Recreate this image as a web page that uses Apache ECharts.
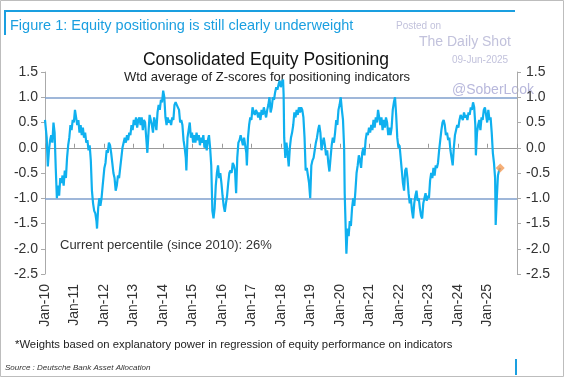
<!DOCTYPE html>
<html>
<head>
<meta charset="utf-8">
<script src="https://cdn.jsdelivr.net/npm/echarts@6/dist/echarts.min.js"></script>
<style>
  html, body { margin: 0; padding: 0; background: #fff; }
  #chart { width: 564px; height: 377px; }
</style>
</head>
<body>
<div id="chart"></div>
<script>
// 数据 (roughly every two weeks)
var dates = [
  '2010-01-01','2010-01-22','2010-02-05','2010-02-19','2010-03-05','2010-03-19','2010-04-02','2010-04-16','2010-04-30','2010-05-14','2010-05-28','2010-06-11','2010-06-25','2010-07-09','2010-07-23','2010-08-06','2010-08-20','2010-09-03','2010-09-17','2010-10-01','2010-10-15','2010-10-29','2010-11-12','2010-11-26','2010-12-10','2010-12-24',
  '2011-01-07','2011-01-21','2011-02-04','2011-02-18','2011-03-04','2011-03-18','2011-04-01','2011-04-15','2011-04-29','2011-05-13','2011-05-27','2011-06-10','2011-06-24','2011-07-08','2011-07-22','2011-08-05','2011-08-19','2011-09-02','2011-09-16','2011-09-30','2011-10-07','2011-10-21','2011-11-04','2011-11-18','2011-12-02','2011-12-16',
  '2012-01-06','2012-01-20','2012-02-03','2012-02-17','2012-03-02','2012-03-16','2012-03-30','2012-04-13','2012-04-27','2012-05-11','2012-05-25','2012-06-08','2012-06-22','2012-07-06','2012-07-20','2012-08-03','2012-08-17','2012-08-31','2012-09-14','2012-09-28','2012-10-12','2012-10-26','2012-11-09','2012-11-23','2012-12-07','2012-12-21',
  '2013-01-04','2013-01-18','2013-02-01','2013-02-15','2013-03-01','2013-03-15','2013-03-29','2013-04-12','2013-04-26','2013-05-10','2013-05-24','2013-06-07','2013-06-21','2013-07-05','2013-07-19','2013-08-02','2013-08-16','2013-08-30','2013-09-13','2013-09-27','2013-10-11','2013-10-25','2013-11-08','2013-11-22','2013-12-06','2013-12-20',
  '2014-01-03','2014-01-17','2014-01-31','2014-02-14','2014-02-28','2014-03-14','2014-03-28','2014-04-11','2014-04-25','2014-05-09','2014-05-23','2014-06-06','2014-06-20','2014-07-04','2014-07-18','2014-08-01','2014-08-15','2014-08-29','2014-09-12','2014-09-26','2014-10-10','2014-10-17','2014-10-31','2014-11-14','2014-11-28','2014-12-12','2014-12-26',
  '2015-01-09','2015-01-23','2015-02-06','2015-02-20','2015-03-06','2015-03-20','2015-04-03','2015-04-17','2015-05-01','2015-05-15','2015-05-29','2015-06-12','2015-06-26','2015-07-10','2015-07-24','2015-08-07','2015-08-21','2015-09-04','2015-09-18','2015-10-02','2015-10-16','2015-10-30','2015-11-13','2015-11-27','2015-12-11','2015-12-25',
  '2016-01-08','2016-01-22','2016-02-05','2016-02-19','2016-03-04','2016-03-18','2016-04-01','2016-04-15','2016-04-29','2016-05-13','2016-05-27','2016-06-10','2016-06-24','2016-07-08','2016-07-22','2016-08-05','2016-08-19','2016-09-02','2016-09-16','2016-09-30','2016-10-14','2016-10-28','2016-11-04','2016-11-18','2016-12-02','2016-12-16','2016-12-30',
  '2017-01-13','2017-01-27','2017-02-10','2017-02-24','2017-03-10','2017-03-24','2017-04-07','2017-04-21','2017-05-05','2017-05-19','2017-06-02','2017-06-16','2017-06-30','2017-07-14','2017-07-28','2017-08-11','2017-08-25','2017-09-08','2017-09-22','2017-10-06','2017-10-20','2017-11-03','2017-11-17','2017-12-01','2017-12-15','2017-12-29',
  '2018-01-12','2018-01-26','2018-02-02','2018-02-09','2018-02-23','2018-03-09','2018-03-23','2018-04-06','2018-04-20','2018-05-04','2018-05-18','2018-06-01','2018-06-15','2018-06-29','2018-07-13','2018-07-27','2018-08-10','2018-08-24','2018-09-07','2018-09-21','2018-10-05','2018-10-19','2018-11-02','2018-11-16','2018-11-30','2018-12-14','2018-12-28',
  '2019-01-11','2019-01-25','2019-02-08','2019-02-22','2019-03-08','2019-03-22','2019-04-05','2019-04-19','2019-05-03','2019-05-17','2019-05-31','2019-06-14','2019-06-28','2019-07-12','2019-07-26','2019-08-09','2019-08-23','2019-09-06','2019-09-20','2019-10-04','2019-10-18','2019-11-01','2019-11-15','2019-11-29','2019-12-13','2019-12-27',
  '2020-01-10','2020-01-24','2020-02-07','2020-02-21','2020-02-28','2020-03-06','2020-03-20','2020-04-03','2020-04-17','2020-05-01','2020-05-15','2020-05-29','2020-06-12','2020-06-26','2020-07-10','2020-07-24','2020-08-07','2020-08-21','2020-09-04','2020-09-18','2020-10-02','2020-10-16','2020-10-30','2020-11-13','2020-11-27','2020-12-11','2020-12-25',
  '2021-01-08','2021-01-22','2021-02-05','2021-02-19','2021-03-05','2021-03-19','2021-04-02','2021-04-16','2021-04-30','2021-05-14','2021-05-28','2021-06-11','2021-06-25','2021-07-09','2021-07-23','2021-08-06','2021-08-20','2021-09-03','2021-09-17','2021-10-01','2021-10-15','2021-10-29','2021-11-12','2021-11-26','2021-12-10','2021-12-24',
  '2022-01-07','2022-01-21','2022-02-04','2022-02-18','2022-03-04','2022-03-18','2022-04-01','2022-04-15','2022-04-29','2022-05-13','2022-05-27','2022-06-10','2022-06-24','2022-07-08','2022-07-22','2022-08-05','2022-08-19','2022-09-02','2022-09-16','2022-09-30','2022-10-14','2022-10-28','2022-11-11','2022-11-25','2022-12-09','2022-12-23',
  '2023-01-06','2023-01-20','2023-02-03','2023-02-17','2023-03-03','2023-03-17','2023-03-31','2023-04-14','2023-04-28','2023-05-12','2023-05-26','2023-06-09','2023-06-23','2023-07-07','2023-07-21','2023-08-04','2023-08-18','2023-09-01','2023-09-15','2023-09-29','2023-10-13','2023-10-27','2023-11-10','2023-11-24','2023-12-08','2023-12-22',
  '2024-01-05','2024-01-19','2024-02-02','2024-02-16','2024-03-01','2024-03-15','2024-03-29','2024-04-12','2024-04-26','2024-05-10','2024-05-24','2024-06-07','2024-06-21','2024-07-05','2024-07-19','2024-08-02','2024-08-09','2024-08-23','2024-09-06','2024-09-20','2024-10-04','2024-10-18','2024-11-01','2024-11-15','2024-11-29','2024-12-13','2024-12-27',
  '2025-01-10','2025-01-24','2025-02-07','2025-02-21','2025-03-07','2025-03-21','2025-04-04','2025-04-11','2025-04-25','2025-05-09','2025-05-23','2025-06-06'
];
var values = [
  0.55,0.2,-0.37,-0.05,0.15,0.25,0.1,0.5,0.3,-0.4,-1.0,-0.75,-0.95,-0.6,-0.7,-0.55,-0.75,-0.45,-0.6,-0.2,0.05,0.2,0.45,0.35,0.55,0.5,
  0.75,0.6,0.45,0.55,0.3,0.45,0.25,0.4,0.2,0.3,0.1,0.15,-0.05,0.05,-0.25,-0.85,-1.1,-1.25,-1.3,-1.45,-1.6,-1.2,-1.0,-1.15,-1.0,-0.75,
  -0.4,-0.3,-0.05,-0.1,0.1,0.05,-0.1,-0.3,-0.5,-0.6,-0.85,-0.75,-0.55,-0.6,-0.4,-0.2,0.0,0.1,0.2,0.1,0.25,0.15,0.3,0.25,0.45,0.35,
  0.55,0.45,0.6,0.4,0.55,0.6,0.45,0.6,0.35,0.55,0.5,0.2,-0.1,0.3,0.65,0.55,0.45,0.3,0.6,0.5,0.35,0.7,0.85,0.75,0.95,0.9,
  1.13,1.0,0.6,0.45,0.6,0.5,0.55,0.45,0.6,0.55,0.85,0.9,0.85,0.8,0.75,0.5,0.55,0.45,0.15,0.0,-0.2,-0.45,0.2,0.35,0.5,0.2,0.3,
  0.1,0.25,0.1,0.3,0.15,0.25,0.05,0.2,0.1,0.25,0.0,0.15,-0.05,0.15,0.25,0.0,-0.35,-1.25,-1.4,-1.2,-0.75,-0.5,-0.35,-0.6,-0.5,-0.7,
  -0.95,-1.15,-1.27,-1.1,-0.95,-0.7,-0.5,-0.45,-0.5,-0.3,-0.35,-0.45,-0.9,-0.2,0.1,0.15,0.25,0.15,0.05,0.2,0.05,-0.1,-0.35,0.2,0.45,0.6,0.55,
  0.8,0.7,0.65,0.75,0.7,0.6,0.7,0.55,0.75,0.65,0.8,0.7,0.6,0.75,0.85,1.0,0.7,0.8,1.0,0.95,1.1,1.2,1.15,1.25,1.33,1.2,
  1.3,1.35,1.05,0.2,-0.2,0.1,-0.1,-0.37,0.0,0.2,0.3,0.45,0.7,0.6,0.75,0.65,0.8,0.7,0.8,0.75,0.6,0.2,-0.45,-0.4,-0.55,-0.7,-1.0,
  -0.35,-0.25,-0.2,-0.05,0.1,0.2,0.35,0.45,0.3,-0.05,0.1,0.2,0.05,-0.15,-0.05,-0.3,-0.47,-0.2,0.05,0.2,0.1,0.3,0.55,0.45,0.75,0.85,
  1.0,0.75,0.55,0.0,-0.9,-1.3,-2.1,-1.6,-1.75,-1.45,-1.55,-1.2,-1.0,-1.15,-0.85,-0.5,-0.35,-0.15,-0.25,-0.4,-0.1,0.0,-0.15,0.15,0.3,0.25,0.4,
  0.3,0.45,0.35,0.55,0.4,0.6,0.5,0.75,0.6,0.45,0.6,0.35,0.55,0.4,0.6,0.5,0.25,0.4,0.25,0.4,0.75,0.9,1.0,0.65,0.2,0.0,
  0.05,-0.2,-0.45,-0.7,-0.85,-0.45,-0.4,-0.6,-0.9,-1.1,-1.0,-1.25,-1.4,-1.1,-0.95,-0.85,-1.05,-1.0,-1.2,-1.35,-1.4,-1.1,-1.0,-0.9,-1.05,-0.95,
  -1.0,-0.65,-0.5,-0.6,-0.4,-0.55,-0.35,-0.4,-0.3,-0.05,0.15,0.35,0.5,0.55,0.45,0.25,0.3,0.15,0.2,-0.05,-0.2,-0.35,0.0,0.25,0.35,0.45,
  0.4,0.55,0.65,0.6,0.55,0.7,0.6,0.65,0.55,0.7,0.65,0.8,0.75,0.9,0.8,0.45,-0.15,0.3,0.45,0.55,0.35,0.6,0.55,0.75,0.8,0.65,0.5,
  0.75,0.55,0.6,0.3,-0.1,-0.3,-0.6,-1.53,-1.0,-0.55,-0.45,-0.4
];
var latestDate = '2025-06-06';
var latestValue = -0.4;
var yTicks = { min: -2.5, max: 1.5, step: 0.5 };
var bandLines = [1.0, -1.0];

var chart = echarts.init(document.getElementById('chart'));
var lineData = dates.map(function (d, i) { return [d, values[i]]; });
var font = 'Liberation Sans, Arial, sans-serif';
var xMin = '2010-01-01';
var xMax = '2025-12-31';
var yearMs = 365 * 24 * 3600 * 1000;

var option = {
  animation: false,
  grid: { left: 45, right: 47, top: 72, bottom: 103 },
  xAxis: [
    {
      type: 'time',
      min: xMin,
      max: xMax,
      minInterval: yearMs,
      maxInterval: yearMs * 1.01,
      axisLine: { show: false, onZero: false },
      axisTick: { show: false },
      splitLine: { show: false },
      axisLabel: {
        rotate: 90,
        margin: 10,
        color: '#333',
        fontSize: 14,
        fontFamily: font,
        showMaxLabel: false,
        formatter: function (val) {
          var y = new Date(val).getFullYear();
          return 'Jan-' + String(y).slice(2);
        }
      }
    },
    {
      type: 'time',
      min: xMin,
      max: xMax,
      minInterval: yearMs,
      maxInterval: yearMs * 1.01,
      axisLine: { show: true, onZero: true, lineStyle: { color: '#999', width: 1 } },
      axisTick: { show: true, inside: false, length: 4, lineStyle: { color: '#999' } },
      axisLabel: { show: false },
      splitLine: { show: false }
    }
  ],
  yAxis: [
    {
      type: 'value',
      position: 'left',
      min: yTicks.min,
      max: yTicks.max,
      interval: yTicks.step,
      axisLine: { show: true, lineStyle: { color: '#aaa' } },
      axisTick: { show: true, length: 4, lineStyle: { color: '#aaa' } },
      splitLine: { show: false },
      axisLabel: {
        color: '#333', fontSize: 14, fontFamily: font, margin: 7,
        formatter: function (v) { return v.toFixed(1); }
      }
    },
    {
      type: 'value',
      position: 'right',
      min: yTicks.min,
      max: yTicks.max,
      interval: yTicks.step,
      axisLine: { show: true, lineStyle: { color: '#aaa' } },
      axisTick: { show: true, length: 4, lineStyle: { color: '#aaa' } },
      splitLine: { show: false },
      axisLabel: {
        color: '#333', fontSize: 14, fontFamily: font, margin: 9,
        formatter: function (v) { return v.toFixed(1); }
      }
    }
  ],
  series: [
    {
      type: 'line',
      xAxisIndex: 0,
      yAxisIndex: 0,
      data: lineData,
      showSymbol: false,
      symbol: 'none',
      lineStyle: { color: '#0fb0ef', width: 2.2 },
      z: 5,
      markLine: {
        silent: true,
        symbol: 'none',
        label: { show: false },
        lineStyle: { color: '#7f9fcc', width: 1.5, type: 'solid' },
        data: bandLines.map(function (v) { return { yAxis: v }; })
      }
    },
    {
      type: 'scatter',
      xAxisIndex: 0,
      yAxisIndex: 0,
      data: [[latestDate, latestValue]],
      symbol: 'diamond',
      symbolSize: 9,
      itemStyle: { color: '#f49a55' },
      z: 6
    }
  ],
  graphic: [
    { type: 'rect', shape: { x: 0.5, y: 0.5, width: 563, height: 376 }, style: { fill: null, stroke: '#bdbdbd', lineWidth: 1 } },
    { type: 'rect', shape: { x: 4, y: 10, width: 511, height: 2 }, style: { fill: '#1a9fe0' } },
    { type: 'rect', shape: { x: 4, y: 10, width: 2, height: 25 }, style: { fill: '#1a9fe0' } },
    { type: 'rect', shape: { x: 515, y: 359, width: 2, height: 16 }, style: { fill: '#1a9fe0' } },
    { type: 'text', left: 10, top: 18, style: { text: 'Figure 1: Equity positioning is still clearly underweight', fill: '#1a9fe0', font: '14.5px ' + font } },
    { type: 'text', left: 396, top: 21, style: { text: 'Posted on', fill: '#c2c2dc', font: '10px ' + font } },
    { type: 'text', left: 419, top: 35, style: { text: 'The Daily Shot', fill: '#c2c2dc', font: '14px ' + font } },
    { type: 'text', left: 452, top: 55, style: { text: '09-Jun-2025', fill: '#c2c2dc', font: '10px ' + font } },
    { type: 'text', left: 452, top: 83, style: { text: '@SoberLook', fill: '#b8b8dc', font: '14px ' + font } },
    { type: 'text', x: 266, y: 60, style: { text: 'Consolidated Equity Positioning', fill: '#111', font: '17.5px ' + font, textAlign: 'center', textVerticalAlign: 'middle' } },
    { type: 'text', x: 267, y: 77, style: { text: 'Wtd average of Z-scores for positioning indicators', fill: '#222', font: '13px ' + font, textAlign: 'center', textVerticalAlign: 'middle' } },
    { type: 'text', left: 60, top: 239, style: { text: 'Current percentile (since 2010): 26%', fill: '#333', font: '13px ' + font } },
    { type: 'text', left: 15, top: 339, style: { text: '*Weights based on explanatory power in regression of equity performance on indicators', fill: '#222', font: '11.3px ' + font } },
    { type: 'text', left: 5, top: 364, style: { text: 'Source : Deutsche Bank Asset Allocation', fill: '#333', font: 'italic 8px ' + font } }
  ]
};
chart.setOption(option);
</script>
</body>
</html>
